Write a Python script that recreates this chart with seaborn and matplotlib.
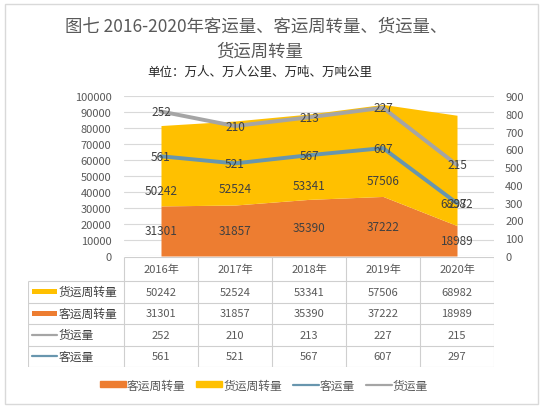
import matplotlib
matplotlib.use("Agg")
import matplotlib.pyplot as plt
import seaborn as sns
import numpy as np
import pandas as pd
from matplotlib.patches import Rectangle
from matplotlib.lines import Line2D

years = ["2016年", "2017年", "2018年", "2019年", "2020年"]
freight_turnover = [50242, 52524, 53341, 57506, 68982]   # 货运周转量
passenger_turnover = [31301, 31857, 35390, 37222, 18989]  # 客运周转量
freight_volume = [252, 210, 213, 227, 215]               # 货运量
passenger_volume = [561, 521, 567, 607, 297]             # 客运量
# vertical anchor of the yellow-band labels
freight_label_y = [40771, 42190, 44365, 47364, 32500]

sns.set_theme(style="white")
plt.rcParams['font.family'] = ['Noto Sans CJK SC', 'DejaVu Sans']

C_ORANGE = "#ED7D31"
C_YELLOW = "#FFC000"
C_BLUE = "#6896AE"
C_GRAY = "#A5A5A5"
C_TXT = "#595959"
C_LBL = "#404040"
C_GRID = "#D9D9D9"

W, H = 547, 414
def fx(p): return p / W
def fy(p): return 1 - p / H

fig = plt.figure(figsize=(5.47, 4.14), dpi=100)
fig.patch.set_facecolor("white")
fig.add_artist(Rectangle((fx(5), fy(405)), fx(538) - fx(5), (405 - 5) / H,
                         transform=fig.transFigure, fill=False,
                         edgecolor=C_GRID, linewidth=1))

fig.text(fx(256), fy(27), "图七 2016-2020年客运量、客运周转量、货运量、",
         ha="center", va="center", fontsize=12.5, color=C_TXT)
fig.text(fx(260), fy(52), "货运周转量", ha="center", va="center",
         fontsize=12.5, color=C_TXT)
fig.text(fx(260), fy(72), "单位：万人、万人公里、万吨、万吨公里", ha="center",
         va="center", fontsize=9, color="#262626")

df = pd.DataFrame({
    "year": years,
    "x": np.arange(len(years)),
    "freight_turnover": freight_turnover,
    "passenger_turnover": passenger_turnover,
    "freight_volume": freight_volume,
    "passenger_volume": passenger_volume,
})
df["freight_stack"] = df["passenger_volume"] + df["freight_volume"]

ax = fig.add_axes([fx(124), fy(257), fx(494) - fx(124), (257 - 97) / H])
ax.set_axisbelow(True)
ax.stackplot(df["x"], df["passenger_turnover"], df["freight_turnover"],
             colors=[C_ORANGE, C_YELLOW], linewidth=0, zorder=2)
ax.set_xlim(-0.5, 4.5)
ax.set_ylim(0, 100000)
ax.set_yticks(np.arange(0, 100001, 10000))
ax.yaxis.grid(True, color=C_GRID, linewidth=0.8)
ax.set_xticks([])
ax.tick_params(axis="y", length=0, pad=9, labelsize=8, labelcolor=C_TXT)
for s in ax.spines.values():
    s.set_visible(False)
ax.set_ylabel("")
ax.set_xlabel("")

for i in range(len(years)):
    ax.text(i, passenger_turnover[i] / 2, str(passenger_turnover[i]),
            ha="center", va="center", fontsize=8.5, color=C_LBL, zorder=5)
    ax.text(i, freight_label_y[i], str(freight_turnover[i]),
            ha="center", va="center", fontsize=8.5, color=C_LBL, zorder=5)

ax2 = ax.twinx()
sns.lineplot(data=df, x="x", y="passenger_volume", ax=ax2, color=C_BLUE,
             linewidth=2.8, legend=False)
sns.lineplot(data=df, x="x", y="freight_stack", ax=ax2, color=C_GRAY,
             linewidth=2.8, legend=False)
ax2.set_ylim(0, 900)
ax2.set_yticks(np.arange(0, 901, 100))
ax2.tick_params(axis="y", length=0, pad=8, labelsize=8, labelcolor=C_TXT)
ax2.set_xlim(-0.5, 4.5)
ax2.set_xticks([])
ax2.set_ylabel("")
ax2.set_xlabel("")
for s in ax2.spines.values():
    s.set_visible(False)
for i in range(len(years)):
    ax2.text(i, passenger_volume[i], str(passenger_volume[i]), ha="center",
             va="center", fontsize=8.5, color=C_LBL, zorder=6)
    ax2.text(i, df["freight_stack"][i], str(freight_volume[i]), ha="center",
             va="center", fontsize=8.5, color=C_LBL, zorder=6)

# data table
axt = fig.add_axes([fx(28), fy(368), fx(494) - fx(28), (368 - 258) / H])
axt.set_xlim(28, 494)
axt.set_ylim(368, 258)
axt.axis("off")
col_w = (494 - 124) / len(years)
col_edges = [124 + i * col_w for i in range(len(years) + 1)]
row_edges = [258, 282, 303.5, 325, 346.5, 368]
lc = "#CFCFCF"
axt.hlines(row_edges[0], 124, 494, color=lc, linewidth=0.8)
axt.hlines(row_edges[1:], 28, 494, color=lc, linewidth=0.8)
axt.vlines(28, row_edges[1], row_edges[-1], color=lc, linewidth=0.8)
axt.vlines(col_edges, row_edges[0], row_edges[-1], color=lc, linewidth=0.8)

for j, y in enumerate(years):
    cx = (col_edges[j] + col_edges[j + 1]) / 2
    axt.text(cx, (row_edges[0] + row_edges[1]) / 2, y, ha="center",
             va="center", fontsize=8, color=C_TXT)

rows = [
    ("货运周转量", freight_turnover, C_YELLOW, "patch"),
    ("客运周转量", passenger_turnover, C_ORANGE, "patch"),
    ("货运量", freight_volume, C_GRAY, "line"),
    ("客运量", passenger_volume, C_BLUE, "line"),
]
for r, (name, vals, col, kind) in enumerate(rows):
    cy = (row_edges[r + 1] + row_edges[r + 2]) / 2
    if kind == "patch":
        axt.add_patch(Rectangle((32, cy - 2.5), 25, 5, color=col, linewidth=0))
    else:
        axt.plot([32, 57], [cy, cy], color=col, linewidth=1.6)
    axt.text(59, cy, name, ha="left", va="center", fontsize=8.5, color=C_LBL)
    for j, v in enumerate(vals):
        cx = (col_edges[j] + col_edges[j + 1]) / 2
        axt.text(cx, cy, str(v), ha="center", va="center", fontsize=8,
                 color=C_TXT)

handles = [
    Rectangle((0, 0), 1, 1, color=C_ORANGE),
    Rectangle((0, 0), 1, 1, color=C_YELLOW),
    Line2D([0], [0], color=C_BLUE, linewidth=1.6),
    Line2D([0], [0], color=C_GRAY, linewidth=1.6),
]
labels = ["客运周转量", "货运周转量", "客运量", "货运量"]
leg = fig.legend(handles, labels, loc="center", bbox_to_anchor=(fx(264), fy(386)),
                 ncol=4, frameon=False, fontsize=8.5, handlelength=2.2,
                 handleheight=0.45, handletextpad=0.1, columnspacing=0.9,
                 labelcolor=C_TXT)

fig.savefig("out.png", dpi=100, facecolor="white")
